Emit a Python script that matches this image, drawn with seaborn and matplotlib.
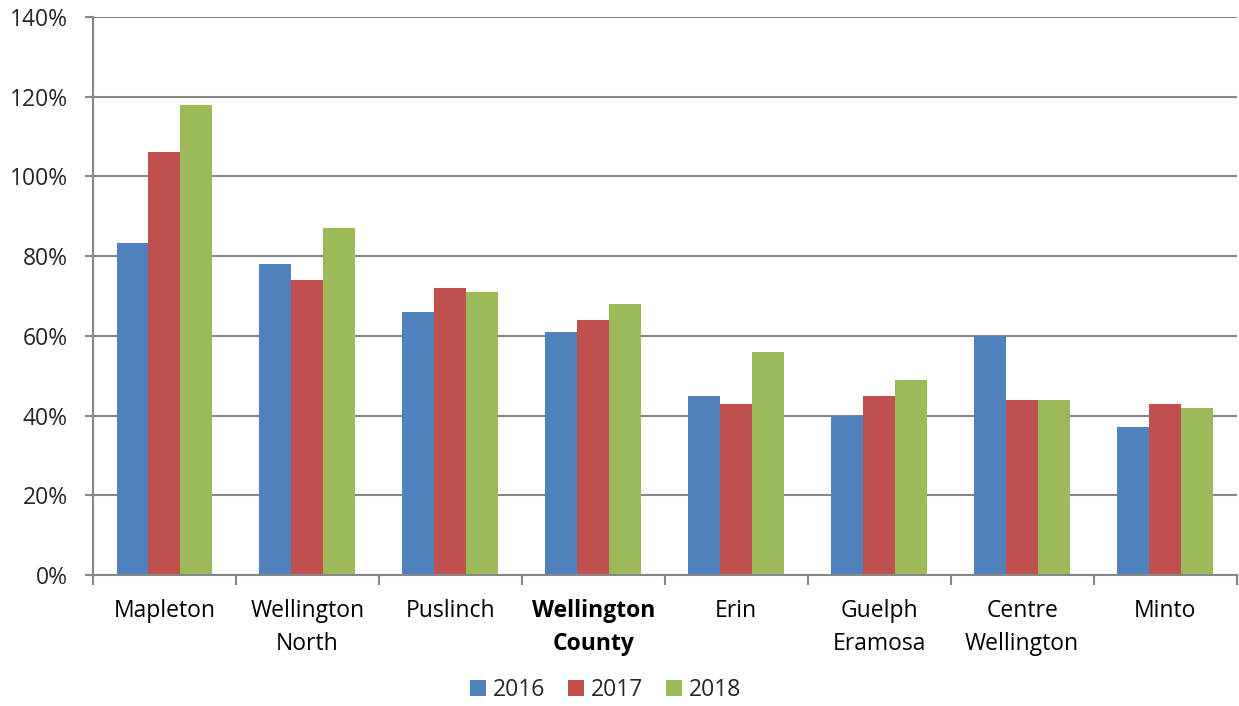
import matplotlib

matplotlib.use("Agg")
import matplotlib.pyplot as plt
import pandas as pd
import seaborn as sns
from matplotlib.ticker import FixedLocator, PercentFormatter

REGIONS = [
    "Mapleton",
    "Wellington\nNorth",
    "Puslinch",
    "Wellington\nCounty",
    "Erin",
    "Guelph\nEramosa",
    "Centre\nWellington",
    "Minto",
]
YEARS = ["2016", "2017", "2018"]
VALUES_2016 = [83.3, 78, 66, 61, 45, 40, 60, 37]
VALUES_2017 = [106, 74, 72, 64, 43, 45, 44, 43]
VALUES_2018 = [118, 87, 71, 68, 56, 49, 44, 42]
COLORS = ["#4F81BD", "#C0504D", "#9BBB59"]

GRID = "#868686"
FONT_SIZE = 16.5

# long table for seaborn
rows = []
for year, values in zip(YEARS, [VALUES_2016, VALUES_2017, VALUES_2018]):
    for region, value in zip(REGIONS, values):
        rows.append({"region": region, "year": year, "value": value})
df = pd.DataFrame(rows)

sns.set_theme(style="white")
plt.rcParams["font.family"] = ["Open Sans", "DejaVu Sans"]

fig = plt.figure(figsize=(12.39, 7.06), dpi=100)
ax = fig.add_axes([0.075, 0.1856, 0.923, 0.7904])

sns.barplot(
    data=df,
    x="region",
    y="value",
    hue="year",
    palette=COLORS,
    saturation=1,
    width=0.67,
    linewidth=0,
    ax=ax,
)

ax.set_xlim(-0.5, len(REGIONS) - 0.5)
ax.set_ylim(0, 140)
ax.set_yticks(range(0, 141, 20))
ax.yaxis.set_major_formatter(PercentFormatter(decimals=0))
ax.yaxis.grid(True, color=GRID, linewidth=1.5)
ax.set_axisbelow(True)
ax.set_xlabel("")
ax.set_ylabel("")

for side in ["top", "right"]:
    ax.spines[side].set_visible(False)
for side in ["left", "bottom"]:
    ax.spines[side].set_color(GRID)
    ax.spines[side].set_linewidth(1.5)

ax.tick_params(axis="x", which="major", length=0, pad=17, labelsize=FONT_SIZE, colors="black")
ax.xaxis.set_minor_locator(FixedLocator([i - 0.5 for i in range(len(REGIONS) + 1)]))
ax.tick_params(axis="x", which="minor", length=7, width=1.5, color=GRID, direction="out")
ax.tick_params(axis="y", length=6, width=1.5, color=GRID, labelsize=FONT_SIZE, pad=12, direction="out")
ax.yaxis.set_tick_params(left=True)
ax.xaxis.set_tick_params(which="minor", bottom=True)

for label in ax.get_xticklabels():
    label.set_linespacing(1.5)
    if label.get_text() == "Wellington\nCounty":
        label.set_fontweight("bold")

handles, labels = ax.get_legend_handles_labels()
ax.legend(
    handles,
    labels,
    ncol=3,
    loc="center",
    bbox_to_anchor=(0.489, 0.022),
    bbox_transform=fig.transFigure,
    frameon=False,
    fontsize=FONT_SIZE,
    handlelength=0.7,
    handleheight=0.7,
    handletextpad=0.3,
    columnspacing=1.0,
)

fig.savefig("out.png", dpi=100)
